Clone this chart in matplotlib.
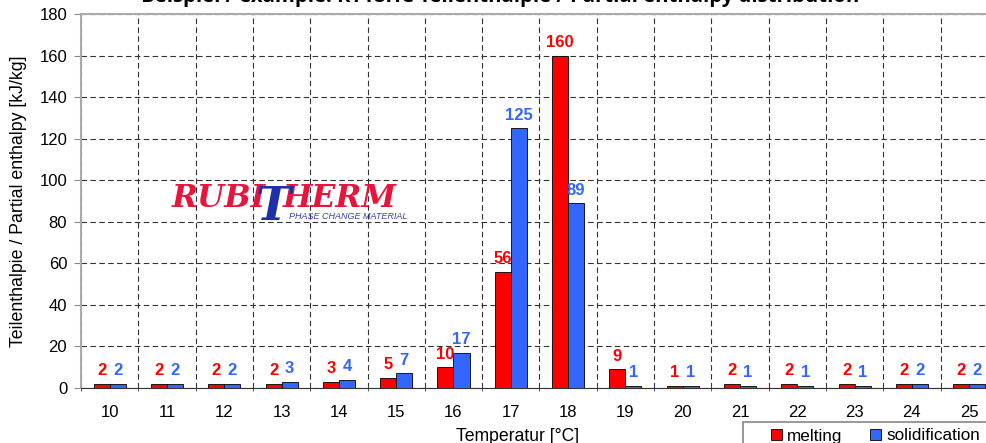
import matplotlib.pyplot as plt
from matplotlib.patches import Rectangle
import numpy as np

plt.rcParams['font.family'] = ['Liberation Sans', 'DejaVu Sans']

temps = [10, 11, 12, 13, 14, 15, 16, 17, 18, 19, 20, 21, 22, 23, 24, 25]
melting = [2, 2, 2, 2, 3, 5, 10, 56, 160, 9, 1, 2, 2, 2, 2, 2]
solidification = [2, 2, 2, 3, 4, 7, 17, 125, 89, 1, 1, 1, 1, 1, 2, 2]

red = '#FF0000'
blue = '#3366FF'

fig = plt.figure(figsize=(9.87, 4.43), dpi=100)
ax = fig.add_axes([0.0821, 0.1242, 0.9289, 0.8442])

x = np.arange(len(temps))
w = 0.28
ax.bar(x - w / 2, melting, w, color=red, edgecolor='black', linewidth=0.6, label='melting', zorder=3)
ax.bar(x + w / 2, solidification, w, color=blue, edgecolor='black', linewidth=0.6, label='solidification', zorder=3)

# value labels above the bars
for xi, v in zip(x, melting):
    ax.annotate(str(v), (xi - w / 2, v), xytext=(0, 4), textcoords='offset points',
                ha='center', va='bottom', color=red, fontsize=12, fontweight='bold')
for xi, v in zip(x, solidification):
    ax.annotate(str(v), (xi + w / 2, v), xytext=(0, 4), textcoords='offset points',
                ha='center', va='bottom', color=blue, fontsize=12, fontweight='bold')

ax.set_xlim(-0.5, len(temps) - 0.5)
ax.set_ylim(0, 180)
ax.set_yticks(np.arange(0, 181, 20))
ax.set_xticks(x)
ax.set_xticklabels([str(t) for t in temps])
ax.set_xticks(np.arange(-0.5, len(temps), 1), minor=True)
ax.tick_params(axis='x', which='major', length=0, pad=12, labelsize=12)
ax.tick_params(axis='x', which='minor', length=5, direction='inout', color='#444444')
ax.tick_params(axis='y', labelsize=12, length=5, color='#888888', pad=5)

ax.grid(True, which='minor', axis='x', linestyle=(0, (5, 3)), color='#333333', linewidth=0.8, zorder=0)
ax.grid(True, which='major', axis='y', linestyle=(0, (5, 3)), color='#333333', linewidth=0.8, zorder=0)

for s in ['left', 'top']:
    ax.spines[s].set_color('#aaaaaa')
    ax.spines[s].set_linewidth(1.5)
ax.spines['bottom'].set_color('#333333')
ax.spines['right'].set_visible(False)

ax.set_ylabel('Teilenthalpie / Partial enthalpy [kJ/kg]', fontsize=12.8)
ax.yaxis.set_label_coords(-0.059, 0.5)
ax.set_xlabel('Temperatur [°C]', fontsize=12.7)
ax.xaxis.set_label_coords(0.476, -0.108)

fig.text(0.507, 0.985, 'Beispiel / example: RT18HC Teilenthalpie / Partial enthalpy distribution',
         ha='center', va='bottom', fontsize=14.6, fontweight='bold', family=['Open Sans', 'DejaVu Sans'])

# logo, pieces chained one after another
logo_font = dict(fontweight='bold', style='italic', family=['DejaVu Serif'])
t1 = fig.text(172 / 987, 1 - 207 / 443, 'RUBI', color='#E8143C', fontsize=22.5, ha='left', va='baseline', **logo_font)
fig.text(256 / 987, 1 - 220 / 443, 'T', color='#1F2FA8', fontsize=34, ha='left', va='baseline', **logo_font)
ax.annotate('HERM', xy=(1, 0), xycoords=t1, xytext=(12, 0), textcoords='offset points',
            color='#E8143C', fontsize=22.5, ha='left', va='bottom', **logo_font)
fig.text(289 / 987, 1 - 216 / 443, 'PHASE CHANGE MATERIAL', color='#3344AA', fontsize=6.5, style='italic',
         ha='left', va='center')

# legend (frame drawn separately, it runs off the bottom edge)
ax.legend(loc='center left', bbox_to_anchor=(771 / 987, 1 - 436 / 443), bbox_transform=fig.transFigure,
          ncol=2, fontsize=12.3, frameon=False, handlelength=0.65, handleheight=0.65,
          handletextpad=0.3, columnspacing=1.6, borderpad=0, borderaxespad=0)
fig.patches.append(Rectangle((743 / 987, -0.1), 0.3, 0.1 + 21 / 443, transform=fig.transFigure,
                             fill=False, edgecolor='#888888', linewidth=1.2))

fig.savefig('out.png', dpi=100)
